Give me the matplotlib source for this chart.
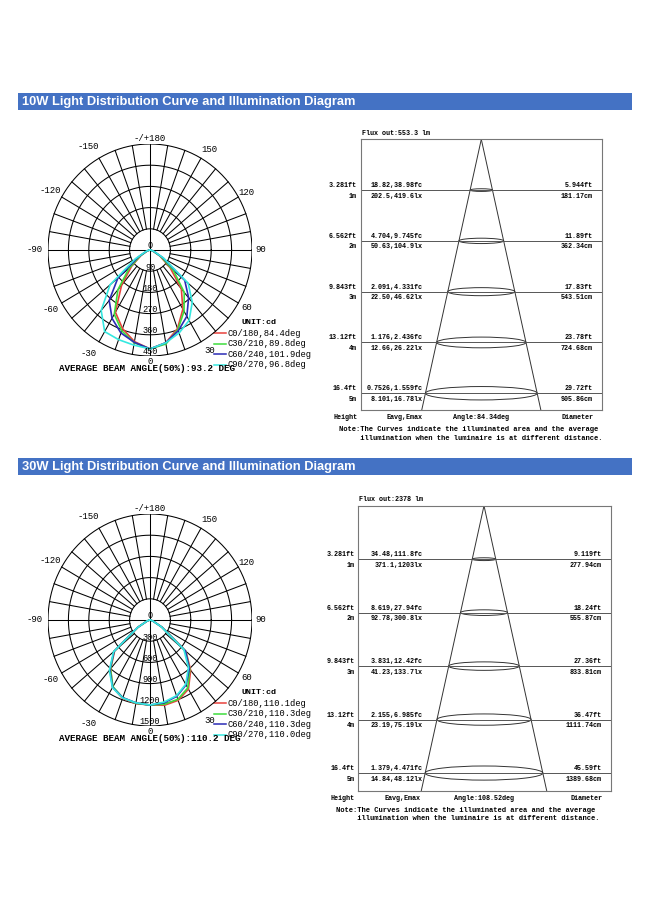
import numpy as np
import matplotlib
matplotlib.use("Agg")
import matplotlib.pyplot as plt
import matplotlib.transforms as mtransforms
from matplotlib.patches import Ellipse, Rectangle

# ---- data ----
titles = ["10W Light Distribution Curve and Illumination Diagram",
          "30W Light Distribution Curve and Illumination Diagram"]

gamma = [0, 10, 20, 30, 40, 50, 60, 70, 80, 90]   # deg from nadir

# 10W intensities (cd), right side / left side of each C-plane
c0_r_10 = [420, 400, 355, 290, 215, 115, 50, 15, 4, 0]
c0_l_10 = [420, 395, 355, 305, 195, 105, 45, 15, 4, 0]
c30_r_10 = [420, 405, 360, 300, 235, 135, 55, 15, 4, 0]
c30_l_10 = [420, 400, 365, 315, 220, 120, 50, 15, 4, 0]
c60_r_10 = [420, 400, 365, 325, 265, 200, 65, 18, 5, 0]
c60_l_10 = [420, 398, 375, 335, 280, 185, 60, 18, 5, 0]
c90_r_10 = [420, 400, 375, 345, 290, 220, 70, 20, 5, 0]
c90_l_10 = [420, 410, 405, 400, 335, 230, 75, 20, 5, 0]

# 30W intensities (cd)
c0_r_30 = [1203, 1225, 1210, 1130, 930, 690, 200, 50, 10, 0]
c0_l_30 = [1203, 1200, 1180, 1100, 900, 680, 200, 50, 10, 0]
c30_r_30 = [1203, 1210, 1195, 1110, 910, 680, 200, 50, 10, 0]
c30_l_30 = [1203, 1195, 1170, 1090, 905, 690, 200, 50, 10, 0]
c60_r_30 = [1203, 1190, 1150, 1060, 900, 680, 200, 50, 10, 0]
c60_l_30 = [1203, 1190, 1170, 1100, 920, 690, 210, 50, 10, 0]
c90_r_30 = [1203, 1180, 1140, 1050, 880, 650, 190, 50, 10, 0]
c90_l_30 = [1203, 1190, 1175, 1105, 930, 700, 210, 50, 10, 0]

rings_10 = [0, 90, 180, 270, 360, 450]
rings_30 = [0, 300, 600, 900, 1200, 1500]

legend_10 = ["C0/180,84.4deg", "C30/210,89.8deg", "C60/240,101.9deg", "C90/270,96.8deg"]
legend_30 = ["C0/180,110.1deg", "C30/210,110.3deg", "C60/240,110.3deg", "C90/270,110.0deg"]
avg_10 = "AVERAGE BEAM ANGLE(50%):93.2 DEG"
avg_30 = "AVERAGE BEAM ANGLE(50%):110.2 DEG"

angle_ticks = [180, 150, 120, 90, 60, 30, 0, -30, -60, -90, -120, -150]
angle_names = ["-/+180", "150", "120", "90", "60", "30", "0", "-30", "-60", "-90", "-120", "-150"]

heights_m = [1, 2, 3, 4, 5]
heights_ft = ["3.281ft", "6.562ft", "9.843ft", "13.12ft", "16.4ft"]
heights_lbl = ["1m", "2m", "3m", "4m", "5m"]

flux_10 = "Flux out:553.3 lm"
fc_10 = ["18.82,38.98fc", "4.704,9.745fc", "2.091,4.331fc", "1.176,2.436fc", "0.7526,1.559fc"]
lx_10 = ["202.5,419.6lx", "50.63,104.9lx", "22.50,46.62lx", "12.66,26.22lx", "8.101,16.78lx"]
dft_10 = ["5.944ft", "11.89ft", "17.83ft", "23.78ft", "29.72ft"]
dcm_10 = ["181.17cm", "362.34cm", "543.51cm", "724.68cm", "905.86cm"]
ang_10 = "Angle:84.34deg"

flux_30 = "Flux out:2378 lm"
fc_30 = ["34.48,111.8fc", "8.619,27.94fc", "3.831,12.42fc", "2.155,6.985fc", "1.379,4.471fc"]
lx_30 = ["371.1,1203lx", "92.78,300.8lx", "41.23,133.7lx", "23.19,75.19lx", "14.84,48.12lx"]
dft_30 = ["9.119ft", "18.24ft", "27.36ft", "36.47ft", "45.59ft"]
dcm_30 = ["277.94cm", "555.87cm", "833.81cm", "1111.74cm", "1389.68cm"]
ang_30 = "Angle:108.52deg"

colors = ["#e8413c", "#3ddc3d", "#2b2bb5", "#35e8e0"]
note1 = "Note:The Curves indicate the illuminated area and the average"
note2 = "     illumination when the luminaire is at different distance."

MONO = "Liberation Mono"
W, H = 650, 919
fig = plt.figure(figsize=(6.5, 9.19), dpi=100)

# page-level axes in pixel coordinates for headers and legends
bg = fig.add_axes([0, 0, 1, 1])
bg.set_xlim(0, W)
bg.set_ylim(H, 0)
bg.axis("off")


def px_axes(x0, y0, w, h):
    return fig.add_axes([x0 / W, 1 - (y0 + h) / H, w / W, h / H])


def header(y0, text):
    bg.add_patch(Rectangle((18, y0), 614, 17, color="#4472c4", lw=0))
    bg.text(22, y0 + 8.8, text, color="white", fontsize=9.25, fontweight="bold",
            family="Liberation Sans", va="center", ha="left")


def polar(cx, cy, rings, planes, labels, avg):
    rmax = rings[-1]
    rx, ry = 102, 106
    ax = px_axes(cx - rx, cy - ry, 2 * rx, 2 * ry)
    ax.set_xlim(-rmax, rmax)
    ax.set_ylim(-rmax, rmax)
    ax.axis("off")
    t = np.linspace(0, 2 * np.pi, 361)
    for r in rings[1:]:
        ax.plot(r * np.cos(t), r * np.sin(t), color="black", lw=0.75, zorder=1)
    for a in range(0, 360, 10):
        ar = np.radians(a)
        r0 = 0 if a % 90 == 0 else rings[1]
        ax.plot([r0 * np.sin(ar), rmax * np.sin(ar)],
                [-r0 * np.cos(ar), -rmax * np.cos(ar)], color="black", lw=0.75, zorder=1)
    # curves
    g = np.radians(gamma)
    for (right, left), col in zip(planes, colors):
        ang = np.concatenate([-g[::-1], g[1:]])
        inten = np.concatenate([np.array(left)[::-1], np.array(right)[1:]])
        ax.plot(inten * np.sin(ang), -inten * np.cos(ang), color=col, lw=1.2, zorder=3)
    # ring labels
    up = mtransforms.offset_copy(ax.transData, fig=fig, y=4, units="dots")
    for r in rings:
        ax.text(0, -r, str(r), transform=up, ha="center", va="center",
                fontsize=6.2, family=MONO, zorder=4)
    # angle labels
    for a, name in zip(angle_ticks, angle_names):
        ar = np.radians(a)
        k = 1.09 if a >= 0 else 1.13
        if a in (0, 180):
            k = 1.05
        dx = 0
        if abs(a) in (30, 150):
            dx = 4 if a > 0 else -4
        tr = mtransforms.offset_copy(ax.transData, fig=fig, x=dx, units="dots")
        ax.text(k * rmax * np.sin(ar), -k * rmax * np.cos(ar), name, transform=tr,
                ha="center", va="center", fontsize=6.5, family=MONO, clip_on=False)
    # legend
    bg.text(241.7, cy + 73, "UNIT:cd", fontsize=6.0, fontweight="bold", family=MONO,
            ha="left", va="center")
    for i, (lab, col) in enumerate(zip(labels, colors)):
        yy = cy + 83.3 + 10.5 * i
        bg.plot([214.3, 225.7], [yy, yy], color=col, lw=1.1)
        bg.text(227.7, yy, lab, fontsize=6.3, family=MONO, ha="left", va="center")
    bg.text(59.3, cy + 118.5, avg, fontsize=6.65, fontweight="bold", family=MONO,
            ha="left", va="center")


def diagram(x0, y0, w, h, apex_x, flux, fc, lx, dft, dcm, ang):
    ppm = h / 5.33
    ax = px_axes(x0, y0, w, h)
    ax.set_xlim(-(apex_x - x0) / ppm, (x0 + w - apex_x) / ppm)
    ax.set_ylim(h / ppm, 0)
    ax.set_xticks([])
    ax.set_yticks([])
    for s in ax.spines.values():
        s.set_color("#777777")
        s.set_linewidth(0.8)
    slope = 0.22
    ymax = h / ppm
    ax.plot([0, -slope * ymax], [0, ymax], color="#333333", lw=0.7)
    ax.plot([0, slope * ymax], [0, ymax], color="#333333", lw=0.7)
    for hm in heights_m:
        ax.axhline(hm, color="#555555", lw=0.7)
        wd = 2 * slope * hm
        ax.add_patch(Ellipse((0, hm), wd, 0.12 * wd, fill=False, ec="#333333", lw=0.7))
    fs = dict(fontsize=4.9, fontweight="bold", family=MONO)
    bl = mtransforms.blended_transform_factory(ax.transAxes, ax.transData)
    for hm, f1, m1, a1, b1, d1, d2 in zip(heights_m, heights_ft, heights_lbl, fc, lx, dft, dcm):
        up = mtransforms.offset_copy(bl, fig=fig, y=4.5, units="dots")
        dn = mtransforms.offset_copy(bl, fig=fig, y=-6, units="dots")
        upl = mtransforms.offset_copy(bl, fig=fig, x=-4, y=4.5, units="dots")
        dnl = mtransforms.offset_copy(bl, fig=fig, x=-4, y=-6, units="dots")
        upr = mtransforms.offset_copy(bl, fig=fig, x=-9, y=4.5, units="dots")
        dnr = mtransforms.offset_copy(bl, fig=fig, x=-9, y=-6, units="dots")
        ax.text(0, hm, f1, transform=upl, ha="right", va="center", clip_on=False, **fs)
        ax.text(0, hm, m1, transform=dnl, ha="right", va="center", clip_on=False, **fs)
        ax.text(0.256, hm, a1, transform=up, ha="right", va="center", **fs)
        ax.text(0.256, hm, b1, transform=dn, ha="right", va="center", **fs)
        ax.text(1, hm, d1, transform=upr, ha="right", va="center", **fs)
        ax.text(1, hm, d2, transform=dnr, ha="right", va="center", **fs)
    bg.text(x0 + 1, y0 - 6, flux, ha="left", va="center", **fs)
    yb = y0 + h + 7.3
    bg.text(x0 - 3.5, yb, "Height", ha="right", va="center", **fs)
    bg.text(x0 + 44, yb, "Eavg,Emax", ha="center", va="center", **fs)
    bg.text(apex_x, yb, ang, ha="center", va="center", **fs)
    bg.text(x0 + w - 8.5, yb, "Diameter", ha="right", va="center", **fs)
    nf = dict(fontsize=5.15, fontweight="bold", family=MONO)
    bg.text(x0 - 22, y0 + h + 19.5, note1, ha="left", va="center", **nf)
    bg.text(x0 - 22, y0 + h + 28, note2, ha="left", va="center", **nf)


header(93, titles[0])
header(458, titles[1])

polar(150, 250, rings_10,
      [(c0_r_10, c0_l_10), (c30_r_10, c30_l_10), (c60_r_10, c60_l_10), (c90_r_10, c90_l_10)],
      legend_10, avg_10)
polar(150, 620, rings_30,
      [(c0_r_30, c0_l_30), (c30_r_30, c30_l_30), (c60_r_30, c60_l_30), (c90_r_30, c90_l_30)],
      legend_30, avg_30)

diagram(360.7, 139.3, 241, 270.7, 481.3, flux_10, fc_10, lx_10, dft_10, dcm_10, ang_10)
diagram(358.3, 505.7, 252.7, 285, 484, flux_30, fc_30, lx_30, dft_30, dcm_30, ang_30)

fig.savefig("out.png", dpi=100)
